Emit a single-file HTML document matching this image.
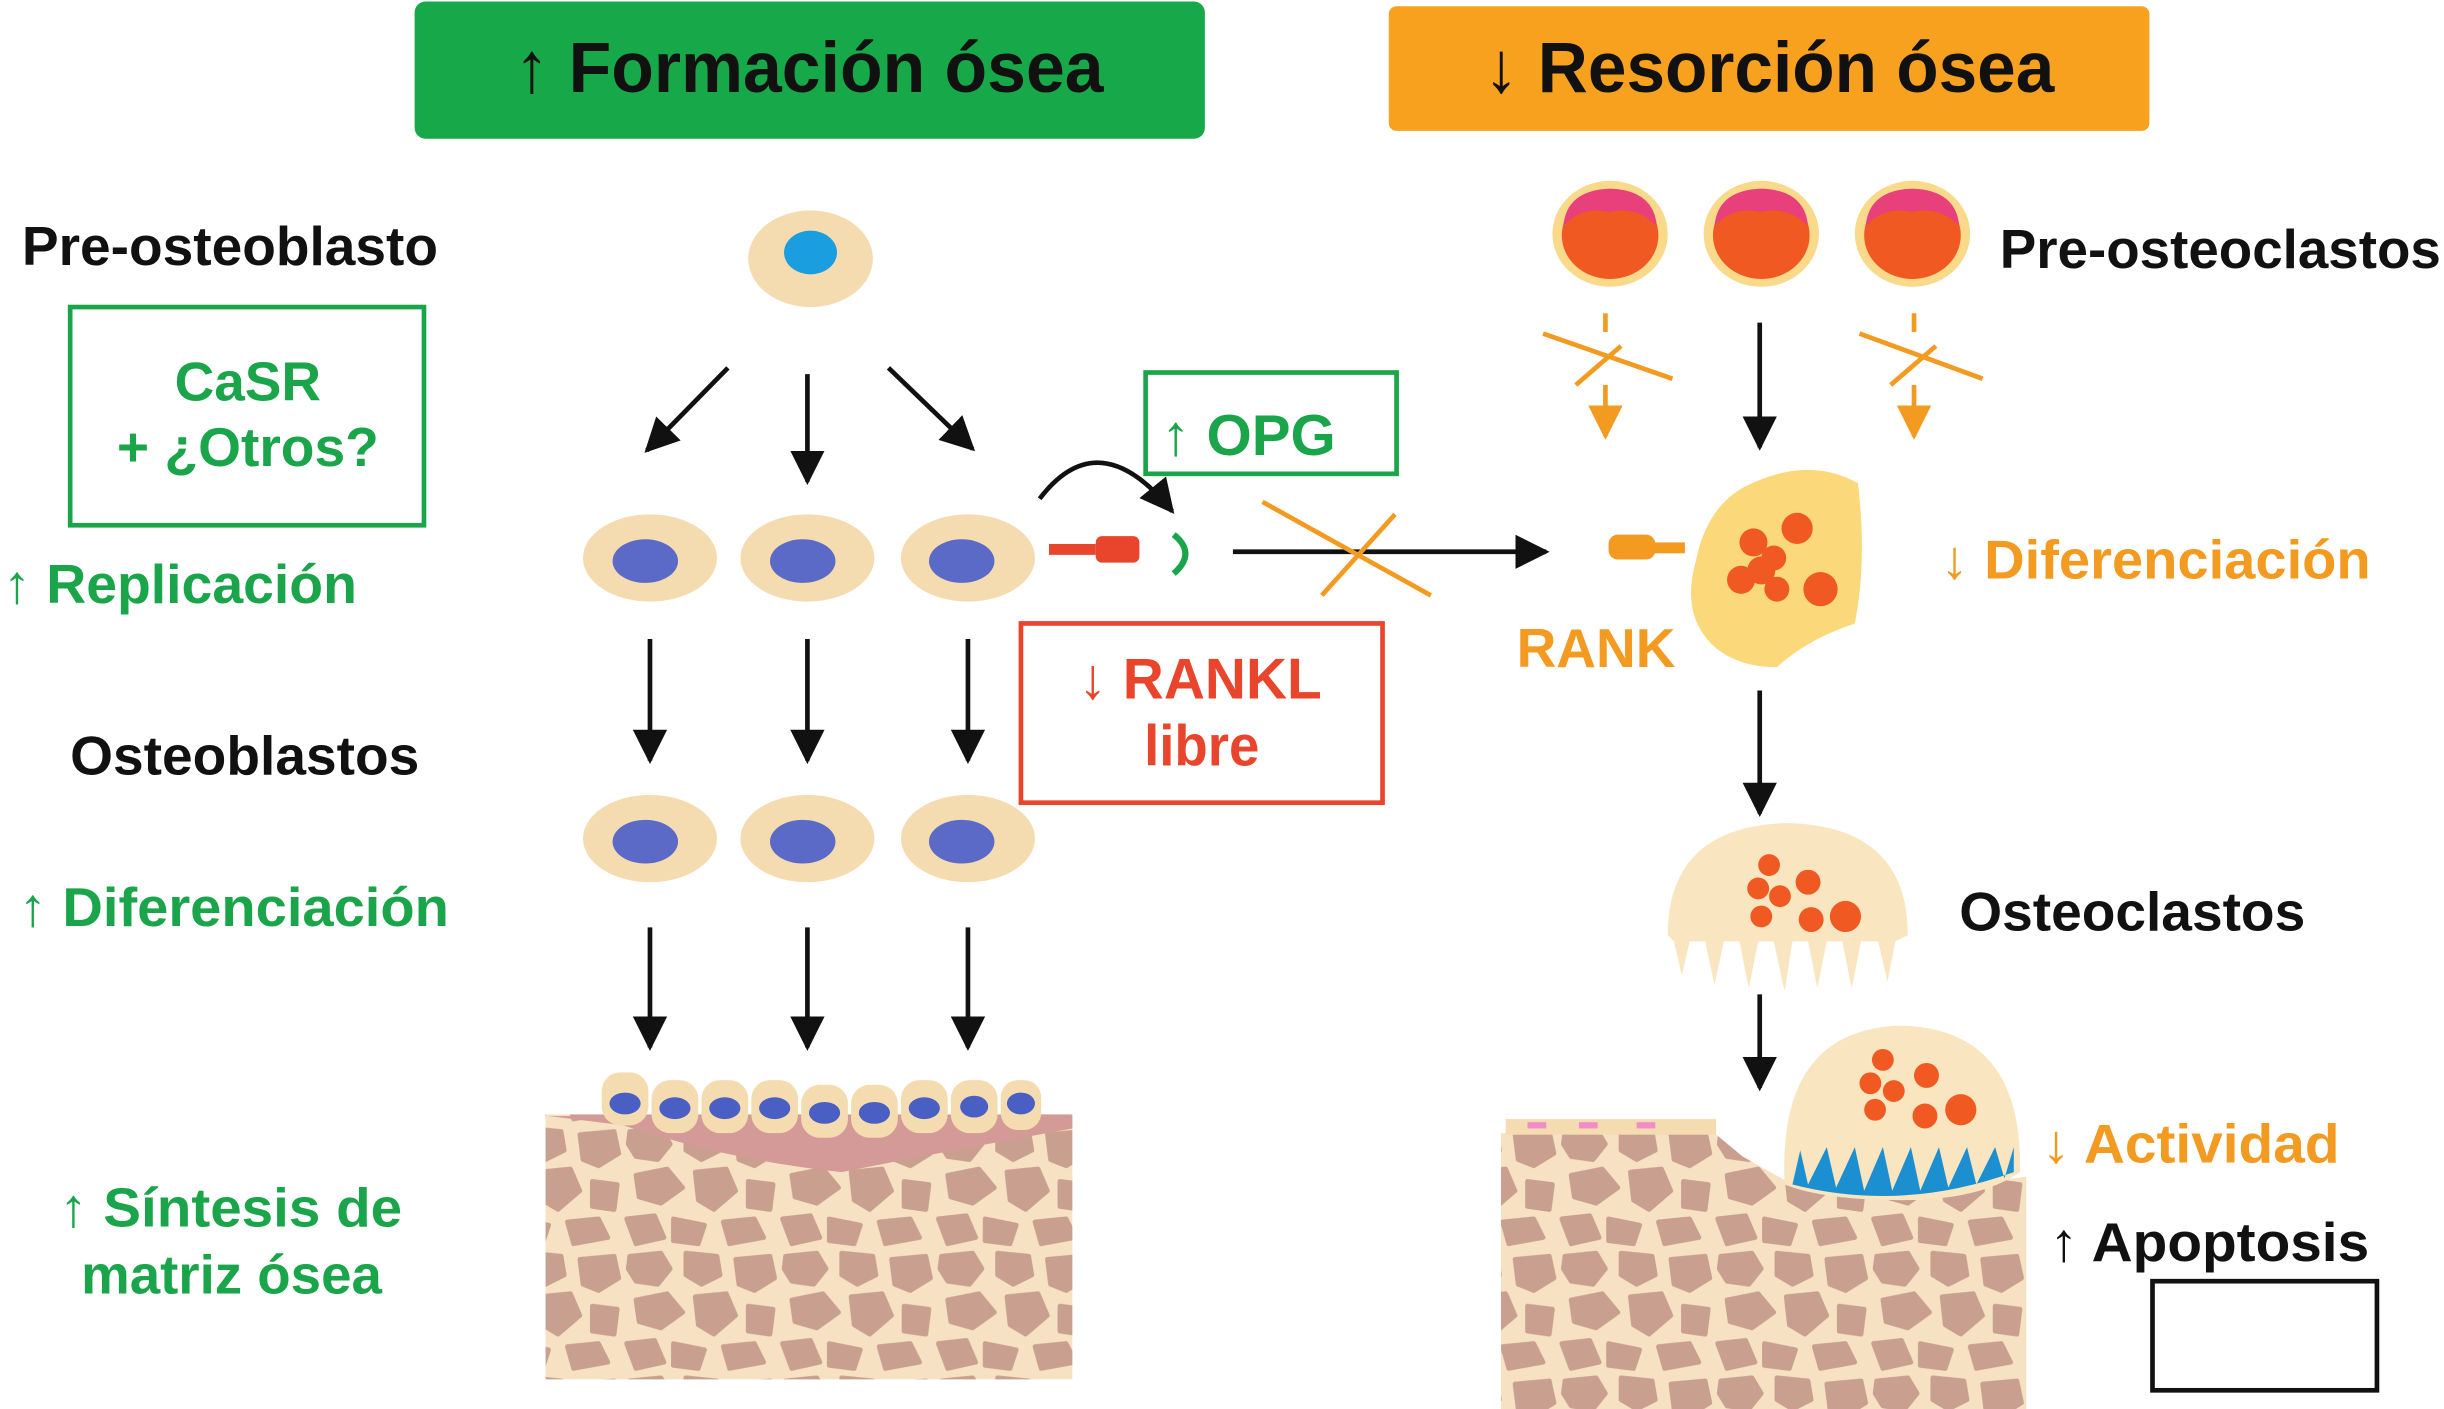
<!DOCTYPE html>
<html><head><meta charset="utf-8"><style>html,body{margin:0;padding:0;background:#fff}svg{display:block}text{font-family:"Liberation Sans",sans-serif;font-weight:bold}</style></head>
<body>
<svg width="2444" height="1409" viewBox="0 0 1568 904" xmlns="http://www.w3.org/2000/svg">
<defs>
<pattern id="bone" width="100" height="80" patternUnits="userSpaceOnUse">
<rect width="100" height="80" fill="#f6e2c2"/>
<g fill="#c9a08f" stroke="#c9a08f" stroke-width="3" stroke-linejoin="round">
<path d="M4 6 L24 4 L30 14 L22 24 L8 22 L3 14Z"/>
<path d="M40 4 L60 6 L62 18 L50 24 L40 18Z"/>
<path d="M72 8 L94 6 L97 20 L84 28 L74 24Z"/>
<path d="M8 34 L28 30 L38 42 L24 52 L10 48Z"/>
<path d="M46 32 L66 30 L72 44 L58 56 L48 50Z"/>
<path d="M80 38 L96 40 L94 56 L80 54Z"/>
<path d="M2 62 L20 60 L26 74 L8 78Z"/>
<path d="M32 62 L52 66 L48 78 L32 76Z"/>
<path d="M64 64 L84 62 L90 74 L68 78Z"/>
</g>
</pattern>
<marker id="ahk" viewBox="0 0 10 10" refX="9" refY="5" markerWidth="22" markerHeight="22" orient="auto" markerUnits="userSpaceOnUse"><path d="M0 0L10 5L0 10Z" fill="#111"/></marker>
<marker id="aho" viewBox="0 0 10 10" refX="9" refY="5" markerWidth="22" markerHeight="22" orient="auto" markerUnits="userSpaceOnUse"><path d="M0 0L10 5L0 10Z" fill="#f39a20"/></marker>
</defs>

<rect x="266" y="1" width="507" height="88" rx="7" fill="#17a84a"/>
<text x="330" y="59" font-size="46" fill="#111" textLength="378" lengthAdjust="spacingAndGlyphs">↑ Formación ósea</text>
<rect x="891" y="4" width="488" height="80" rx="5" fill="#f7a11f"/>
<text x="952" y="59" font-size="46" fill="#111" textLength="366" lengthAdjust="spacingAndGlyphs">↓ Resorción ósea</text>

<text x="14" y="170" font-size="35" fill="#111" textLength="267" lengthAdjust="spacingAndGlyphs">Pre-osteoblasto</text>
<rect x="45" y="197" width="227" height="140" fill="none" stroke="#1aa54b" stroke-width="3"/>
<text x="159" y="257" font-size="35" fill="#1aa54b" text-anchor="middle" textLength="94" lengthAdjust="spacingAndGlyphs">CaSR</text>
<text x="159" y="299" font-size="35" fill="#1aa54b" text-anchor="middle" textLength="168" lengthAdjust="spacingAndGlyphs">+ ¿Otros?</text>
<text x="2" y="387" font-size="35" fill="#1aa54b" textLength="227" lengthAdjust="spacingAndGlyphs">↑ Replicación</text>
<text x="45" y="497" font-size="35" fill="#111" textLength="224" lengthAdjust="spacingAndGlyphs">Osteoblastos</text>
<text x="12" y="594" font-size="35" fill="#1aa54b" textLength="276" lengthAdjust="spacingAndGlyphs">↑ Diferenciación</text>
<text x="38" y="787" font-size="35" fill="#1aa54b" textLength="220" lengthAdjust="spacingAndGlyphs">↑ Síntesis de</text>
<text x="52" y="830" font-size="35" fill="#1aa54b" textLength="193" lengthAdjust="spacingAndGlyphs">matriz ósea</text>

<ellipse cx="520" cy="166" rx="40" ry="31" fill="#f5dcb0"/>
<ellipse cx="520" cy="162" rx="17" ry="14" fill="#1a9ee0"/>
<g stroke="#111" stroke-width="3" fill="none" marker-end="url(#ahk)">
<line x1="467" y1="236" x2="415" y2="289"/>
<line x1="518" y1="240" x2="518" y2="309"/>
<line x1="570" y1="236" x2="624" y2="288"/>
<line x1="417" y1="410" x2="417" y2="488"/>
<line x1="518" y1="410" x2="518" y2="488"/>
<line x1="621" y1="410" x2="621" y2="488"/>
<line x1="417" y1="595" x2="417" y2="672"/>
<line x1="518" y1="595" x2="518" y2="672"/>
<line x1="621" y1="595" x2="621" y2="672"/>
<line x1="791" y1="354" x2="992" y2="354"/>
<line x1="1129" y1="207" x2="1129" y2="287"/>
<line x1="1129" y1="443" x2="1129" y2="522"/>
<line x1="1129" y1="638" x2="1129" y2="698"/>
<path d="M667 320 Q705 270 752 328"/>
</g>
<g>
<ellipse cx="417" cy="358" rx="43" ry="28" fill="#f5dcb0"/><ellipse cx="414" cy="360" rx="21" ry="14" fill="#5a6ac6"/>
<ellipse cx="518" cy="358" rx="43" ry="28" fill="#f5dcb0"/><ellipse cx="515" cy="360" rx="21" ry="14" fill="#5a6ac6"/>
<ellipse cx="621" cy="358" rx="43" ry="28" fill="#f5dcb0"/><ellipse cx="617" cy="360" rx="21" ry="14" fill="#5a6ac6"/>
<ellipse cx="417" cy="538" rx="43" ry="28" fill="#f5dcb0"/><ellipse cx="414" cy="540" rx="21" ry="14" fill="#5a6ac6"/>
<ellipse cx="518" cy="538" rx="43" ry="28" fill="#f5dcb0"/><ellipse cx="515" cy="540" rx="21" ry="14" fill="#5a6ac6"/>
<ellipse cx="621" cy="538" rx="43" ry="28" fill="#f5dcb0"/><ellipse cx="617" cy="540" rx="21" ry="14" fill="#5a6ac6"/>
</g>
<rect x="673" y="349" width="30" height="7" fill="#e8452c"/>
<rect x="703" y="344" width="28" height="17" rx="4" fill="#e8452c"/>
<path d="M753 343 Q768 355 753 368" stroke="#1aa54b" stroke-width="4" fill="none"/>
<rect x="735" y="239" width="161" height="65" fill="none" stroke="#1aa54b" stroke-width="3"/>
<text x="745" y="292" font-size="37" fill="#1aa54b" textLength="112" lengthAdjust="spacingAndGlyphs">↑ OPG</text>
<rect x="655" y="400" width="232" height="115" fill="none" stroke="#e8452c" stroke-width="3"/>
<text x="692" y="448" font-size="37" fill="#e8452c" textLength="156" lengthAdjust="spacingAndGlyphs">↓ RANKL</text>
<text x="734" y="491" font-size="37" fill="#e8452c" textLength="74" lengthAdjust="spacingAndGlyphs">libre</text>
<g stroke="#f39a20" stroke-width="3"><line x1="810" y1="322" x2="918" y2="382"/><line x1="848" y1="382" x2="895" y2="330"/></g>

<rect x="350" y="715" width="338" height="170" fill="url(#bone)"/>
<path d="M352 716 L688 716 L688 724 Q600 740 540 752 Q470 745 400 722Z" fill="#d49a97"/>
<g fill="#f5dcb0">
<rect x="386" y="688" width="30" height="34" rx="12"/><rect x="418" y="693" width="30" height="34" rx="12"/><rect x="450" y="693" width="30" height="34" rx="12"/><rect x="482" y="693" width="30" height="34" rx="12"/><rect x="514" y="696" width="30" height="34" rx="12"/><rect x="546" y="696" width="30" height="34" rx="12"/><rect x="578" y="693" width="30" height="34" rx="12"/><rect x="610" y="693" width="30" height="34" rx="12"/><rect x="642" y="693" width="26" height="32" rx="11"/>
</g>
<g fill="#4a5fc4">
<ellipse cx="401" cy="708" rx="10" ry="7"/><ellipse cx="433" cy="711" rx="10" ry="7"/><ellipse cx="465" cy="711" rx="10" ry="7"/><ellipse cx="497" cy="711" rx="10" ry="7"/><ellipse cx="529" cy="714" rx="10" ry="7"/><ellipse cx="561" cy="714" rx="10" ry="7"/><ellipse cx="593" cy="711" rx="10" ry="7"/><ellipse cx="625" cy="710" rx="9" ry="7"/><ellipse cx="655" cy="708" rx="9" ry="7"/>
</g>

<g>
<ellipse cx="1033" cy="150" rx="37" ry="34" fill="#f9d98a"/><ellipse cx="1033" cy="151" rx="31" ry="28" fill="#f05a22"/><path d="M1003 145 Q1005 122 1033 121 Q1061 122 1063 145 Q1050 132 1033 136 Q1015 132 1003 145Z" fill="#e8407a"/>
<ellipse cx="1130" cy="150" rx="37" ry="34" fill="#f9d98a"/><ellipse cx="1130" cy="151" rx="31" ry="28" fill="#f05a22"/><path d="M1100 145 Q1102 122 1130 121 Q1158 122 1160 145 Q1147 132 1130 136 Q1112 132 1100 145Z" fill="#e8407a"/>
<ellipse cx="1227" cy="150" rx="37" ry="34" fill="#f9d98a"/><ellipse cx="1227" cy="151" rx="31" ry="28" fill="#f05a22"/><path d="M1197 145 Q1199 122 1227 121 Q1255 122 1257 145 Q1244 132 1227 136 Q1209 132 1197 145Z" fill="#e8407a"/>
</g>
<text x="1283" y="172" font-size="35" fill="#111" textLength="283" lengthAdjust="spacingAndGlyphs">Pre-osteoclastos</text>
<g stroke="#f39a20" stroke-width="3" fill="none">
<line x1="1030" y1="201" x2="1030" y2="213"/><line x1="990" y1="214" x2="1073" y2="243"/><line x1="1011" y1="247" x2="1040" y2="222"/>
<line x1="1030" y1="247" x2="1030" y2="280" marker-end="url(#aho)"/>
<line x1="1228" y1="201" x2="1228" y2="213"/><line x1="1193" y1="214" x2="1272" y2="243"/><line x1="1213" y1="247" x2="1242" y2="222"/>
<line x1="1228" y1="247" x2="1228" y2="280" marker-end="url(#aho)"/>
</g>

<path d="M1120 312 Q1160 292 1192 310 Q1198 360 1190 400 Q1160 410 1140 428 Q1115 428 1100 415 Q1078 395 1088 360 Q1095 325 1120 312Z" fill="#fbd97a"/>
<g fill="#f05a22"><circle cx="1125" cy="348" r="9"/><circle cx="1153" cy="339" r="10"/><circle cx="1138" cy="358" r="8"/><circle cx="1130" cy="366" r="9"/><circle cx="1117" cy="372" r="9"/><circle cx="1140" cy="378" r="8"/><circle cx="1168" cy="378" r="11"/></g>
<rect x="1055" y="348" width="26" height="7" fill="#f39a20"/>
<rect x="1032" y="343" width="30" height="16" rx="6" fill="#f39a20"/>
<text x="973" y="428" font-size="35" fill="#f39a20" textLength="102" lengthAdjust="spacingAndGlyphs">RANK</text>
<text x="1245" y="371" font-size="35" fill="#f39a20" textLength="276" lengthAdjust="spacingAndGlyphs">↓ Diferenciación</text>

<path d="M1070 600 Q1070 530 1147 528 Q1224 530 1224 600 L1216 604 L1211 630 L1205 604 L1194 604 L1188 634 L1182 604 L1172 604 L1166 634 L1160 604 L1150 604 L1145 636 L1138 604 L1128 604 L1122 634 L1116 604 L1106 604 L1100 632 L1094 604 L1084 604 L1079 626 L1074 604Z" fill="#f9e6c0"/>
<g fill="#f05a22"><circle cx="1135" cy="555" r="7"/><circle cx="1128" cy="570" r="7"/><circle cx="1142" cy="575" r="7"/><circle cx="1160" cy="566" r="8"/><circle cx="1130" cy="588" r="7"/><circle cx="1162" cy="590" r="8"/><circle cx="1184" cy="588" r="10"/></g>
<text x="1257" y="597" font-size="35" fill="#111" textLength="222" lengthAdjust="spacingAndGlyphs">Osteoclastos</text>

<path d="M963 727 L1100 727 L1118 742 L1150 760 L1200 768 L1260 760 L1300 755 L1300 904 L963 904Z" fill="url(#bone)"/>
<rect x="966" y="718" width="135" height="10" fill="#f5dcb0"/>
<g fill="#f08cc8"><rect x="980" y="720" width="12" height="4"/><rect x="1013" y="720" width="12" height="4"/><rect x="1050" y="720" width="12" height="4"/></g>
<path d="M1145 760 Q1140 660 1220 658 Q1298 660 1296 752 Q1270 770 1220 770 Q1170 770 1145 760Z" fill="#f9e6c0"/>
<g fill="#1b8fd0"><path d="M1150 760 Q1220 778 1292 752 L1292 736 L1286 756 L1280 736 L1268 760 L1262 736 L1250 762 L1244 736 L1232 764 L1226 736 L1214 764 L1208 736 L1196 764 L1190 736 L1178 762 L1172 736 L1160 760 L1155 738Z"/></g>
<g fill="#f05a22"><circle cx="1208" cy="680" r="7"/><circle cx="1200" cy="695" r="7"/><circle cx="1215" cy="700" r="7"/><circle cx="1236" cy="690" r="8"/><circle cx="1203" cy="712" r="7"/><circle cx="1235" cy="716" r="8"/><circle cx="1258" cy="712" r="10"/></g>
<text x="1310" y="746" font-size="35" fill="#f39a20" textLength="191" lengthAdjust="spacingAndGlyphs">↓ Actividad</text>
<text x="1315" y="809" font-size="35" fill="#111" textLength="205" lengthAdjust="spacingAndGlyphs">↑ Apoptosis</text>
<rect x="1381" y="822" width="144" height="70" fill="none" stroke="#111" stroke-width="3"/>
</svg>
</body></html>
